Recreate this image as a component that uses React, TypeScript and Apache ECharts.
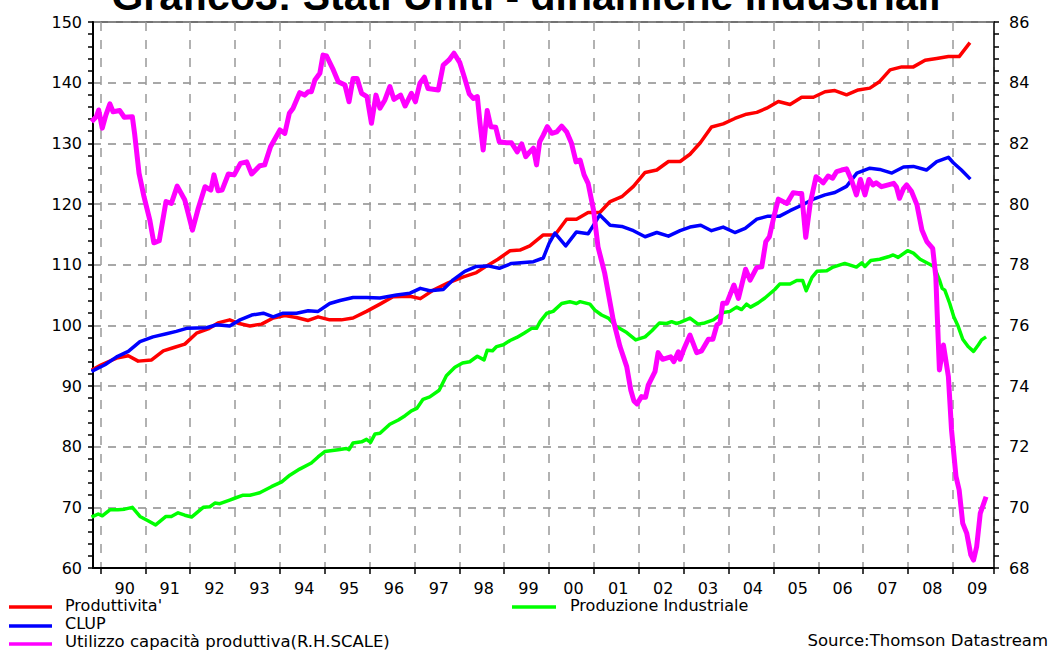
import React, { useEffect, useRef } from "react";
import * as echarts from "echarts";

const TITLE = "Grafico3: Stati Uniti - dinamiche industriali";
const SOURCE = "Source:Thomson Datastream";
const NAME_RED = "Produttivita'";
const NAME_BLUE = "CLUP";
const NAME_GREEN = "Produzione Industriale";
const NAME_MAG = "Utilizzo capacità produttiva(R.H.SCALE)";

// Monthly categories (Nov 1989 - Nov 2009) used for year grid / labels
const FIRST_YEAR = 1989;
const FIRST_MONTH = 11;
const LAST_YEAR = 2009;
const LAST_MONTH = 11;

// Produttivita' (left scale)
const redX = [1989.80,1990.02,1990.36,1990.62,1990.84,1991.14,1991.40,1991.62,1991.88,1992.14,1992.40,1992.62,1992.88,1993.09,1993.33,1993.59,1993.85,1994.11,1994.37,1994.63,1994.85,1995.11,1995.37,1995.63,1995.93,1996.23,1996.52,1996.90,1997.13,1997.42,1997.75,1998.09,1998.38,1998.61,1998.86,1999.13,1999.35,1999.57,1999.72,1999.87,2000.13,2000.39,2000.61,2000.87,2001.13,2001.36,2001.62,2001.88,2002.14,2002.40,2002.66,2002.92,2003.14,2003.37,2003.62,2003.88,2004.14,2004.40,2004.63,2004.85,2005.11,2005.37,2005.63,2005.89,2006.15,2006.37,2006.63,2006.89,2007.15,2007.37,2007.60,2007.86,2008.12,2008.38,2008.64,2008.90,2009.14,2009.38];
const redV = [92.6,93.5,94.6,95.0,94.1,94.3,95.8,96.3,96.9,98.7,99.4,100.4,100.9,100.3,99.9,100.2,101.2,101.6,101.3,100.8,101.4,100.9,100.9,101.2,102.3,103.5,104.7,104.8,104.4,105.8,107.0,108.0,108.7,109.8,110.9,112.3,112.4,113.1,114.0,114.9,114.9,117.5,117.5,118.6,118.6,120.4,121.2,122.9,125.2,125.6,127.0,127.0,128.2,130.1,132.7,133.2,134.1,134.8,135.1,135.8,136.9,136.4,137.6,137.6,138.5,138.7,138.0,138.8,139.1,140.2,142.1,142.6,142.6,143.7,144.0,144.3,144.3,146.6];

// CLUP (left scale)
const blueX = [1989.80,1990.10,1990.36,1990.62,1990.88,1991.17,1991.47,1991.69,1991.92,1992.36,1992.59,1992.88,1993.11,1993.37,1993.63,1993.85,1994.07,1994.37,1994.63,1994.85,1995.11,1995.34,1995.63,1995.93,1996.23,1996.60,1996.90,1997.13,1997.34,1997.64,1997.86,1998.12,1998.38,1998.64,1998.89,1999.16,1999.65,1999.87,2000.00,2000.13,2000.37,2000.61,2000.87,2000.98,2001.13,2001.36,2001.62,2001.88,2002.14,2002.40,2002.66,2002.92,2003.14,2003.38,2003.62,2003.88,2004.14,2004.37,2004.63,2004.88,2005.14,2005.37,2005.63,2005.89,2006.15,2006.37,2006.63,2006.86,2007.15,2007.37,2007.64,2007.90,2008.12,2008.41,2008.64,2008.90,2009.01,2009.19,2009.39];
const blueV = [92.4,93.5,94.8,95.7,97.3,98.1,98.6,99.0,99.5,99.6,100.1,99.9,100.9,101.7,102.0,101.4,102.0,102.0,102.4,102.3,103.6,104.1,104.6,104.6,104.5,105.0,105.3,106.1,105.7,105.9,107.5,108.9,109.7,109.8,109.4,110.2,110.5,111.1,113.5,115.2,113.1,115.4,115.1,116.4,118.2,116.5,116.3,115.6,114.6,115.3,114.7,115.6,116.2,116.5,115.6,116.2,115.3,116.0,117.5,118.0,118.0,118.9,119.8,120.8,121.5,121.9,122.9,125.1,125.9,125.7,125.1,126.1,126.2,125.6,127.0,127.7,126.8,125.6,124.1];

// Produzione Industriale (left scale)
const greenX = [1989.80,1989.95,1990.04,1990.21,1990.39,1990.54,1990.71,1990.88,1991.06,1991.23,1991.46,1991.58,1991.73,1991.88,1992.03,1992.29,1992.44,1992.55,1992.66,1992.88,1992.99,1993.18,1993.33,1993.55,1993.81,1994.04,1994.22,1994.44,1994.70,1994.85,1995.00,1995.30,1995.48,1995.54,1995.63,1995.82,1995.93,1996.02,1996.12,1996.23,1996.45,1996.64,1996.79,1996.93,1997.05,1997.19,1997.34,1997.55,1997.71,1997.90,1998.07,1998.23,1998.40,1998.55,1998.62,1998.74,1998.83,1998.98,1999.13,1999.28,1999.44,1999.61,1999.72,1999.80,1999.95,2000.09,2000.28,2000.46,2000.61,2000.69,2000.91,2001.02,2001.17,2001.32,2001.50,2001.73,2001.93,2002.14,2002.29,2002.46,2002.62,2002.73,2002.84,2002.92,2003.14,2003.32,2003.47,2003.66,2003.88,2004.03,2004.18,2004.29,2004.40,2004.49,2004.66,2004.81,2005.03,2005.14,2005.37,2005.52,2005.65,2005.73,2005.86,2005.97,2006.19,2006.33,2006.59,2006.85,2006.97,2007.04,2007.17,2007.37,2007.56,2007.67,2007.78,2007.99,2008.12,2008.27,2008.45,2008.58,2008.70,2008.76,2008.82,2008.93,2009.02,2009.12,2009.22,2009.34,2009.46,2009.57,2009.64,2009.74];
const greenV = [68.4,68.9,68.6,69.6,69.6,69.7,70.0,68.5,67.8,67.1,68.5,68.5,69.1,68.7,68.4,70.0,70.1,70.7,70.6,71.2,71.5,72.0,72.0,72.4,73.4,74.2,75.3,76.3,77.3,78.3,79.2,79.5,79.7,79.5,80.6,80.8,81.2,80.7,82.1,82.2,83.7,84.4,85.1,85.9,86.3,87.8,88.2,89.3,91.7,93.1,93.8,94.0,94.9,94.3,95.9,95.8,96.5,96.8,97.5,98.0,98.7,99.5,99.5,100.6,102.0,102.3,103.6,103.9,103.6,103.9,103.5,102.5,101.7,101.2,99.8,98.8,97.6,98.1,99.1,100.4,100.3,100.6,100.3,100.5,101.2,100.2,100.4,100.9,102.1,102.3,103.0,102.6,103.5,103.0,103.7,104.5,105.9,106.8,106.8,107.4,107.4,105.7,107.9,108.9,109.0,109.6,110.2,109.6,110.3,109.7,110.7,110.9,111.3,111.6,111.2,112.3,111.9,110.9,110.2,109.7,107.5,106.1,105.8,103.6,101.4,99.8,97.7,96.5,95.7,96.8,97.6,98.1];

// Utilizzo capacita' produttiva (right scale)
const magX = [1989.80,1989.91,1989.96,1990.04,1990.12,1990.21,1990.28,1990.43,1990.53,1990.71,1990.76,1990.86,1990.97,1991.10,1991.19,1991.31,1991.46,1991.58,1991.71,1991.88,1992.05,1992.18,1992.33,1992.46,1992.53,1992.62,1992.71,1992.85,1992.98,1993.12,1993.26,1993.37,1993.55,1993.66,1993.79,1994.00,1994.11,1994.21,1994.29,1994.44,1994.55,1994.63,1994.70,1994.78,1994.89,1994.96,1995.04,1995.19,1995.30,1995.45,1995.54,1995.63,1995.72,1995.82,1995.94,1996.04,1996.14,1996.23,1996.34,1996.45,1996.54,1996.69,1996.79,1996.93,1997.02,1997.12,1997.22,1997.30,1997.53,1997.64,1997.77,1997.88,1998.01,1998.12,1998.22,1998.31,1998.40,1998.46,1998.53,1998.62,1998.70,1998.81,1998.89,1999.05,1999.16,1999.29,1999.39,1999.48,1999.54,1999.65,1999.72,1999.79,1999.87,1999.96,2000.06,2000.17,2000.28,2000.39,2000.50,2000.60,2000.69,2000.78,2000.87,2000.99,2001.09,2001.24,2001.43,2001.58,2001.73,2001.82,2001.89,2001.96,2002.06,2002.15,2002.21,2002.36,2002.43,2002.53,2002.71,2002.78,2002.88,2002.92,2003.01,2003.14,2003.29,2003.40,2003.55,2003.65,2003.74,2003.81,2003.87,2003.96,2004.12,2004.22,2004.38,2004.48,2004.63,2004.74,2004.83,2004.91,2005.01,2005.11,2005.30,2005.44,2005.55,2005.63,2005.72,2005.82,2005.95,2006.11,2006.22,2006.32,2006.41,2006.52,2006.63,2006.74,2006.85,2006.94,2007.04,2007.13,2007.22,2007.29,2007.41,2007.56,2007.68,2007.74,2007.81,2007.90,2007.97,2008.08,2008.20,2008.31,2008.42,2008.55,2008.62,2008.65,2008.70,2008.79,2008.90,2008.97,2009.07,2009.14,2009.22,2009.31,2009.40,2009.46,2009.53,2009.61,2009.74];
const magV = [82.71,82.88,83.10,82.50,82.93,83.30,83.04,83.08,82.86,82.88,82.33,81.01,80.24,79.47,78.72,78.79,80.08,80.02,80.59,80.13,79.14,79.86,80.57,80.46,80.96,80.44,80.46,80.99,80.96,81.34,81.39,80.99,81.26,81.29,81.89,82.44,82.33,82.99,83.15,83.67,83.59,83.70,83.70,84.09,84.31,84.91,84.88,84.42,84.03,83.92,83.37,84.14,84.14,83.65,83.54,82.66,83.59,83.16,83.43,83.87,83.45,83.59,83.23,83.65,83.37,83.98,84.18,83.81,83.76,84.58,84.75,84.97,84.66,84.14,83.63,83.48,83.54,82.66,81.78,83.08,82.55,82.53,82.05,82.02,82.02,81.72,81.98,81.56,81.67,81.84,81.29,82.05,82.27,82.55,82.33,82.38,82.57,82.38,82.00,81.39,81.45,80.96,80.68,79.80,78.59,77.71,76.17,75.30,74.64,73.87,73.51,73.41,73.65,73.63,74.03,74.47,75.10,74.88,74.96,74.80,75.13,74.88,75.24,75.68,75.10,75.16,75.54,75.54,76.01,76.09,76.73,76.73,77.33,76.89,77.85,77.49,77.91,77.93,78.76,78.92,79.58,80.16,80.02,80.37,80.35,80.35,78.90,80.02,80.90,80.70,80.92,80.85,81.07,81.12,81.16,80.79,80.30,80.81,80.30,80.81,80.63,80.70,80.57,80.63,80.68,80.57,80.19,80.51,80.63,80.41,79.97,79.14,78.76,78.54,77.60,76.40,74.53,75.35,74.31,72.55,71.01,70.57,69.47,69.14,68.43,68.26,68.70,69.80,70.35];

function buildMonths(): string[] {
  const out: string[] = [];
  for (let y = FIRST_YEAR; y <= LAST_YEAR; y++) {
    for (let m = 1; m <= 12; m++) {
      if (y === FIRST_YEAR && m < FIRST_MONTH) continue;
      if (y === LAST_YEAR && m > LAST_MONTH) continue;
      out.push(`${y}-${String(m).padStart(2, "0")}`);
    }
  }
  return out;
}

const pairs = (xs: number[], vs: number[]) => xs.map((x, i) => [x, vs[i]]);

const FONT = "DejaVu Sans";

export default function App() {
  const ref = useRef<HTMLDivElement>(null);
  useEffect(() => {
    if (!ref.current) return;
    const chart = echarts.init(ref.current, null, { renderer: "svg" });
    const months = buildMonths();
    const isJan = (_i: number, v: string) => v.endsWith("-01");
    const isJul = (_i: number, v: string) => v.endsWith("-07");
    const option: any = {
      animation: false,
      backgroundColor: "#ffffff",
      grid: {
        left: 93,
        right: 59,
        top: 22,
        bottom: 82,
        show: true,
        borderColor: "#444",
        borderWidth: 1.5,
        backgroundColor: "transparent",
      },
      xAxis: [
        {
          type: "category",
          data: months,
          boundaryGap: true,
          position: "bottom",
          axisLine: { show: true, lineStyle: { color: "#000", width: 2 } },
          axisTick: { show: true, interval: isJan, length: 6, lineStyle: { color: "#000", width: 1.5 } },
          axisLabel: {
            show: true,
            interval: isJul,
            formatter: (v: string) => v.slice(2, 4),
            fontFamily: FONT,
            fontSize: 16,
            color: "#000",
            margin: 12,
          },
          splitLine: {
            show: true,
            interval: isJan,
            lineStyle: { color: "#999", width: 1.5, type: [9, 9] },
          },
        },
        {
          type: "value",
          min: FIRST_YEAR + (FIRST_MONTH - 1) / 12,
          max: LAST_YEAR + LAST_MONTH / 12,
          show: false,
          splitLine: { show: false },
        },
      ],
      yAxis: [
        {
          type: "value",
          position: "left",
          min: 60,
          max: 150,
          interval: 10,
          axisLine: { show: true, lineStyle: { color: "#000", width: 2 } },
          axisTick: { show: true, length: 5, lineStyle: { color: "#000", width: 1.5 } },
          minorTick: { show: true, splitNumber: 5, length: 5, lineStyle: { color: "#000", width: 1.5 } },
          axisLabel: { fontFamily: FONT, fontSize: 16, color: "#000", margin: 11 },
          splitLine: { show: true, lineStyle: { color: "#8c8c8c", width: 1.5, type: [8, 7] } },
        },
        {
          type: "value",
          position: "right",
          min: 68,
          max: 86,
          interval: 2,
          axisLine: { show: true, lineStyle: { color: "#222", width: 1.5 } },
          axisTick: { show: true, length: 5, lineStyle: { color: "#000", width: 1.5 } },
          minorTick: { show: true, splitNumber: 5, length: 5, lineStyle: { color: "#000", width: 1.5 } },
          axisLabel: { fontFamily: FONT, fontSize: 16, color: "#000", margin: 15 },
          splitLine: { show: false },
        },
      ],
      series: [
        {
          name: NAME_RED,
          type: "line",
          xAxisIndex: 1,
          yAxisIndex: 0,
          data: pairs(redX, redV),
          showSymbol: false,
          lineStyle: { color: "#ff0000", width: 3.5, join: "round" },
        },
        {
          name: NAME_GREEN,
          type: "line",
          xAxisIndex: 1,
          yAxisIndex: 0,
          data: pairs(greenX, greenV),
          showSymbol: false,
          lineStyle: { color: "#00ff00", width: 3.5, join: "round" },
        },
        {
          name: NAME_BLUE,
          type: "line",
          xAxisIndex: 1,
          yAxisIndex: 0,
          data: pairs(blueX, blueV),
          showSymbol: false,
          lineStyle: { color: "#0000ff", width: 3.5, join: "round" },
        },
        {
          name: NAME_MAG,
          type: "line",
          xAxisIndex: 1,
          yAxisIndex: 1,
          data: pairs(magX, magV),
          showSymbol: false,
          lineStyle: { color: "#ff00ff", width: 5, join: "round" },
        },
      ],
      graphic: [
        {
          type: "text",
          x: 526,
          y: -4,
          style: {
            text: TITLE,
            fill: "#000",
            font: 'bold 41px "Liberation Sans"',
            align: "center",
            verticalAlign: "middle",
          },
        },
        { type: "line", shape: { x1: 9, y1: 607, x2: 52, y2: 607 }, style: { stroke: "#ff0000", lineWidth: 3.5 } },
        { type: "text", x: 65, y: 605, style: { text: NAME_RED, fill: "#000", font: `16px "${FONT}"`, verticalAlign: "middle" } },
        { type: "line", shape: { x1: 512, y1: 607, x2: 556, y2: 607 }, style: { stroke: "#00ff00", lineWidth: 3.5 } },
        { type: "text", x: 570, y: 605, style: { text: NAME_GREEN, fill: "#000", font: `16px "${FONT}"`, verticalAlign: "middle" } },
        { type: "line", shape: { x1: 9, y1: 626, x2: 52, y2: 626 }, style: { stroke: "#0000ff", lineWidth: 3.5 } },
        { type: "text", x: 65, y: 623.5, style: { text: NAME_BLUE, fill: "#000", font: `16px "${FONT}"`, verticalAlign: "middle" } },
        { type: "line", shape: { x1: 9, y1: 644, x2: 52, y2: 644 }, style: { stroke: "#ff00ff", lineWidth: 3.5 } },
        { type: "text", x: 65, y: 641, style: { text: NAME_MAG, fill: "#000", font: `16.5px "${FONT}"`, verticalAlign: "middle" } },
        { type: "text", x: 1048, y: 640, style: { text: SOURCE, fill: "#000", font: `16.5px "${FONT}"`, align: "right", verticalAlign: "middle" } },
      ],
    };
    chart.setOption(option);
    return () => chart.dispose();
  }, []);
  return (
    <div
      ref={ref}
      style={{ position: "fixed", left: 0, top: 0, width: 1053, height: 650, background: "#fff" }}
    />
  );
}
